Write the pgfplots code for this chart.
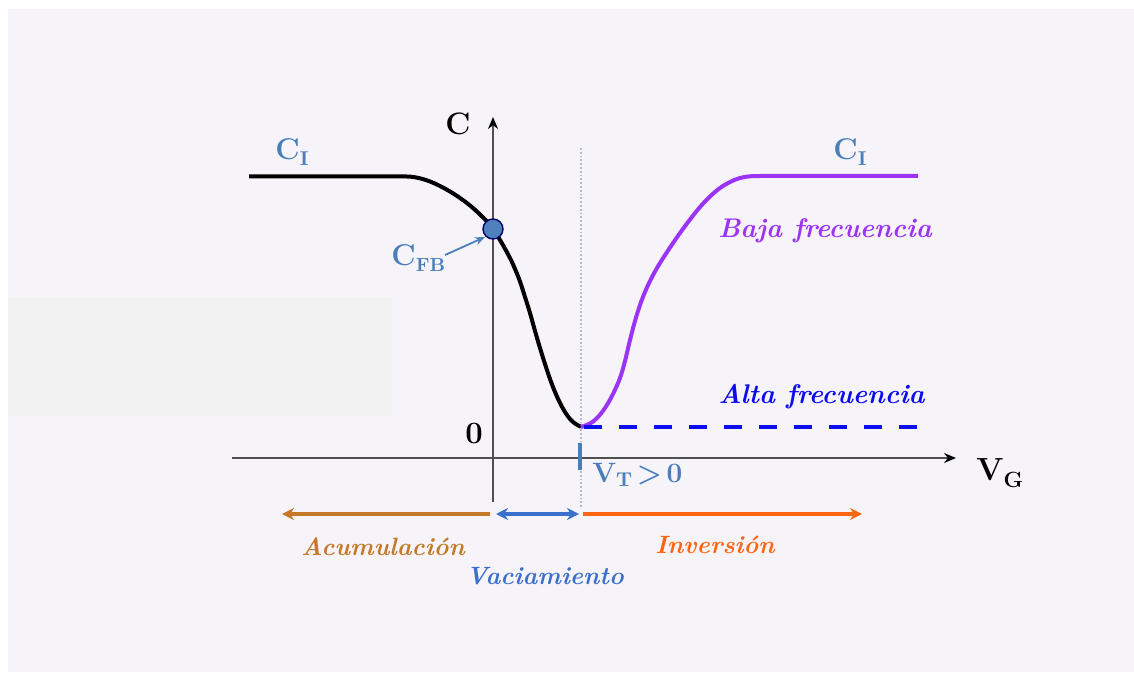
\documentclass[border=0pt]{standalone}
\usepackage{pgfplots}
\pgfplotsset{compat=1.18}
\usetikzlibrary{arrows.meta}
\definecolor{bg}{RGB}{247,244,249}
\definecolor{graybox}{RGB}{242,242,242}
\definecolor{steel}{RGB}{74,126,187}
\definecolor{cfb}{RGB}{79,129,189}
\definecolor{lowf}{RGB}{155,52,245}
\definecolor{highf}{RGB}{12,12,240}
\definecolor{acum}{RGB}{196,120,40}
\definecolor{vac}{RGB}{58,112,204}
\definecolor{inv}{RGB}{255,102,17}
\definecolor{axgray}{RGB}{80,80,80}
\definecolor{dotline}{RGB}{170,188,215}
\begin{document}
\begin{tikzpicture}
\begin{axis}[
  width=567pt, height=339.5pt, scale only axis,
  xmin=0, xmax=1134, ymin=0, ymax=679, y dir=reverse,
  hide axis, clip=false]
% background
\fill[white] (axis cs:0,0) rectangle (axis cs:1134,679);
\fill[bg] (axis cs:8,9) rectangle (axis cs:1134,672);
\fill[graybox] (axis cs:8,297) rectangle (axis cs:392,416);
% dotted threshold line
\draw[dotline, line width=0.9pt, densely dotted] (axis cs:581,148) -- (axis cs:581,508);
% axes
\draw[axgray, line width=1pt, -{Stealth[length=6pt,width=5pt,black]}] (axis cs:232,458) -- (axis cs:956,458);
\draw[axgray, line width=1pt, -{Stealth[length=6pt,width=5pt,black]}] (axis cs:493,502) -- (axis cs:493,117);
% V_T tick
\draw[steel, line width=1.6pt] (axis cs:580,443) -- (axis cs:580,470);
% curves
\addplot[black, line width=2pt, smooth, tension=0.6] coordinates {
 (249,176.5) (300,176.5) (350,176.5) (390,176.5) (400,176.5) (410,176.6) (420,178.3)
 (430,181.5) (440,186) (450,191.5) (460,198)
 (470,205.5) (480,214.5) (490,225) (500,240) (510,258) (515,269) (520,281.5)
 (525,297) (530,313) (535,331) (540,348) (545,364) (550,379) (555,392) (560,403)
 (565,412) (570,419) (575,423.5) (581,426.8)};
\addplot[lowf, line width=2pt, smooth, tension=0.6] coordinates {
 (581,427) (590,423.5) (597,418) (605,408) (613,394) (620,378) (625,361) (630,340)
 (635,321) (640,305) (645,292) (650,281) (655,271.5) (660,263) (670,247.5) (680,233)
 (690,219.5) (700,207) (710,196.5) (720,188) (730,182) (740,178) (750,176.3)
 (760,176) (780,176) (820,176) (870,176) (918,176)};
\addplot[highf, line width=2pt, dash pattern=on 9pt off 8.5pt] coordinates {(584,427) (930,427)};
\addplot[only marks, mark=*, mark size=5pt, mark options={fill=cfb, draw=black!60!blue, line width=0.7pt}] coordinates {(493,229)};
% C_FB arrow
\draw[steel, line width=0.9pt, -{Stealth[length=5pt,width=4pt]}] (axis cs:445,255) -- (axis cs:485,237);
% region arrows
\draw[acum, line width=1.6pt, -{Stealth[length=6pt,width=6pt]}] (axis cs:490,514) -- (axis cs:282,514);
\draw[vac, line width=1.6pt, {Stealth[length=6pt,width=6pt]}-{Stealth[length=6pt,width=6pt]}] (axis cs:496,514) -- (axis cs:579,514);
\draw[inv, line width=1.6pt, -{Stealth[length=6pt,width=6pt]}] (axis cs:583,514) -- (axis cs:862,514);
% labels
\node[anchor=base, inner sep=0pt, font=\bfseries\fontsize{15.5}{15.5}\selectfont] at (axis cs:458,135) {C};
\node[anchor=base, inner sep=0pt, font=\bfseries\fontsize{15.5}{15.5}\selectfont] at (axis cs:474,443) {0};
\node[anchor=base west, inner sep=0pt, font=\bfseries\fontsize{16}{16}\selectfont] at (axis cs:976,480) {V\raisebox{-0.5ex}{\fontsize{11}{11}\selectfont G}};
\node[anchor=base west, inner sep=0pt, text=steel, font=\bfseries\fontsize{15}{15}\selectfont] at (axis cs:275,160) {C\raisebox{-0.4ex}{\fontsize{10}{10}\selectfont I}};
\node[anchor=base west, inner sep=0pt, text=steel, font=\bfseries\fontsize{15}{15}\selectfont] at (axis cs:833,160) {C\raisebox{-0.4ex}{\fontsize{10}{10}\selectfont I}};
\node[anchor=base west, inner sep=0pt, text=steel, font=\bfseries\fontsize{15}{15}\selectfont] at (axis cs:391,265) {C\raisebox{-0.5ex}{\fontsize{9.5}{9.5}\selectfont FB}};
\node[anchor=base west, inner sep=0pt, text=steel, font=\bfseries\fontsize{14}{14}\selectfont] at (axis cs:592,482) {V\raisebox{-0.4ex}{\fontsize{10}{10}\selectfont T}\,>\,0};
\node[anchor=base west, inner sep=0pt, text=lowf, font=\bfseries\itshape\fontsize{13.5}{13.5}\selectfont] at (axis cs:718,238) {Baja frecuencia};
\node[anchor=base west, inner sep=0pt, text=highf, font=\bfseries\itshape\fontsize{13.5}{13.5}\selectfont] at (axis cs:718,403) {Alta frecuencia};
\node[anchor=base, inner sep=0pt, text=acum, font=\bfseries\itshape\fontsize{12.5}{12.5}\selectfont] at (axis cs:383,555) {Acumulación};
\node[anchor=base, inner sep=0pt, text=vac, font=\bfseries\itshape\fontsize{12.5}{12.5}\selectfont] at (axis cs:545,584) {Vaciamiento};
\node[anchor=base, inner sep=0pt, text=inv, font=\bfseries\itshape\fontsize{12.5}{12.5}\selectfont] at (axis cs:715,553) {Inversión};
\end{axis}
\end{tikzpicture}
\end{document}
